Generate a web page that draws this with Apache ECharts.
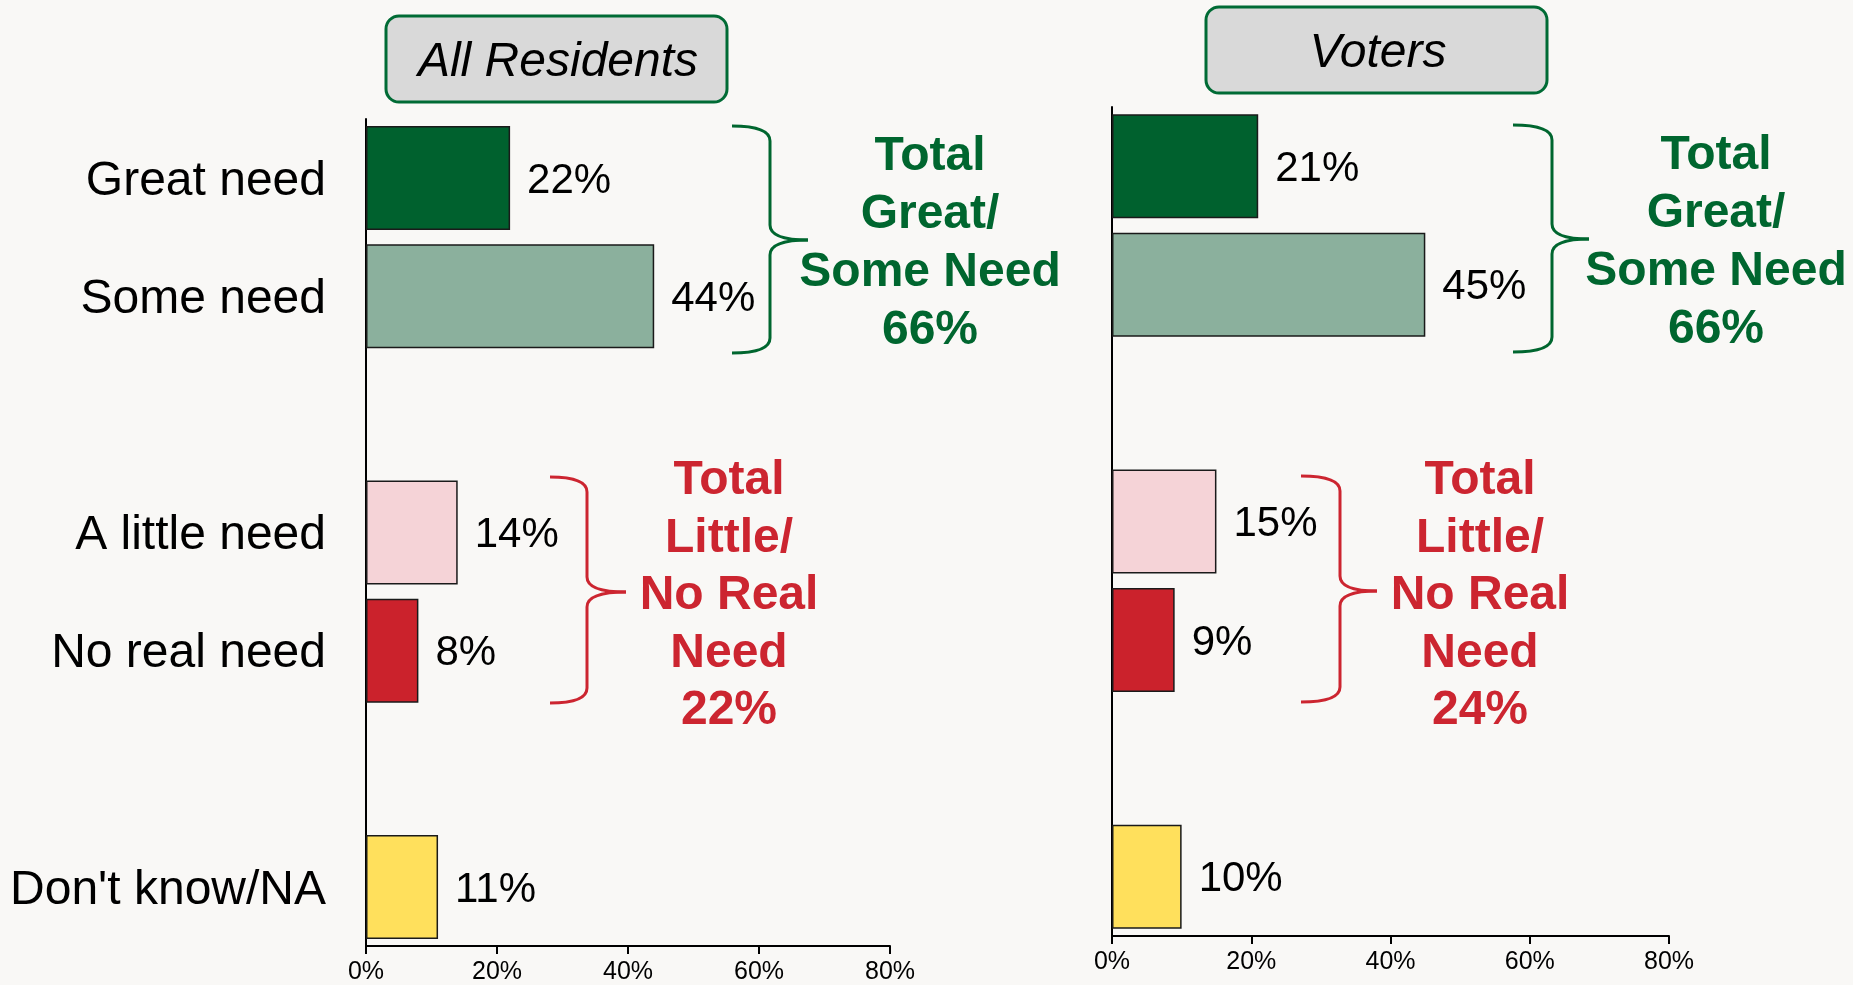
<!DOCTYPE html>
<html>
<head>
<meta charset="utf-8">
<title>Need - All Residents vs Voters</title>
<script src="https://cdn.jsdelivr.net/npm/echarts@6/dist/echarts.min.js"></script>
<style>
  html, body { margin: 0; padding: 0; background: #f9f8f6; }
  #main { width: 1853px; height: 985px; }
</style>
</head>
<body>
<div id="main"></div>
<script>
// data
const categories = ['Great need', 'Some need', '', 'A little need', 'No real need', ' ', "Don't know/NA"];
const residentsPct = [22, 44, null, 14, 8, null, 11];
const votersPct = [21, 45, null, 15, 9, null, 10];
const axisTicks = [0, 20, 40, 60, 80];
const panelTitles = ['All Residents', 'Voters'];
const residentsTotals = [66, 22];
const votersTotals = [66, 24];

const barColors = ['#00612e', '#8bb09d', null, '#f5d3d7', '#cb222c', null, '#ffe05c'];
const GREEN = '#00662f';
const RED = '#cc2530';
const FONT = '"Liberation Sans", Arial, sans-serif';

function barData(values) {
  return values.map((v, i) => (v == null ? null : { value: v, itemStyle: { color: barColors[i] } }));
}

// curly brace: x0 = arm end, xv = spine, xt = tip
function brace(x0, xv, xt, y0, ym, y1, color) {
  const r = 15;
  const style = { fill: 'none', stroke: color, lineWidth: 3 };
  const curve = (x1, y1_, x2, y2, cx, cy) => ({
    type: 'bezierCurve',
    shape: { x1: x1, y1: y1_, x2: x2, y2: y2, cpx1: cx, cpy1: cy },
    style: style,
  });
  const line = (x1, y1_, x2, y2) => ({
    type: 'line',
    shape: { x1: x1, y1: y1_, x2: x2, y2: y2 },
    style: style,
  });
  return {
    type: 'group',
    children: [
      curve(x0, y0, xv, y0 + r, xv, y0),
      line(xv, y0 + r, xv, ym - r),
      curve(xv, ym - r, xt, ym, xv, ym),
      curve(xt, ym, xv, ym + r, xv, ym),
      line(xv, ym + r, xv, y1 - r),
      curve(xv, y1 - r, x0, y1, xv, y1),
    ],
  };
}

function note(x, y, text, color, lh) {
  return {
    type: 'text',
    x: x,
    y: y,
    style: {
      text: text,
      fill: color,
      font: 'bold 48px ' + FONT,
      align: 'center',
      verticalAlign: 'middle',
      lineHeight: lh,
    },
  };
}

function titleBox(x, y, text) {
  return {
    type: 'group',
    children: [
      {
        type: 'rect',
        shape: { x: x, y: y, width: 341, height: 86, r: 13 },
        style: { fill: '#d9d9d9', stroke: '#006b35', lineWidth: 3 },
      },
      {
        type: 'text',
        x: x + 172,
        y: y + 47,
        style: {
          text: text,
          fill: '#000',
          font: 'italic 48px ' + FONT,
          align: 'center',
          verticalAlign: 'middle',
        },
      },
    ],
  };
}

function valueX(gridIndex) {
  return {
    type: 'value',
    gridIndex: gridIndex,
    min: axisTicks[0],
    max: axisTicks[axisTicks.length - 1],
    interval: axisTicks[1] - axisTicks[0],
    axisLine: { show: true, lineStyle: { color: '#000', width: 2 } },
    axisTick: { show: true, length: 8, lineStyle: { color: '#000', width: 2 } },
    axisLabel: { formatter: '{value}%', fontSize: 25, color: '#000', margin: 14, fontFamily: FONT },
    splitLine: { show: false },
  };
}

function catY(gridIndex, showLabels) {
  return {
    type: 'category',
    gridIndex: gridIndex,
    data: categories,
    inverse: true,
    axisLine: { show: true, lineStyle: { color: '#000', width: 2 } },
    axisTick: { show: false },
    axisLabel: {
      show: showLabels,
      interval: 0,
      margin: 40,
      formatter: v => (v.trim() ? '{c|' + v + '}' : ''),
      rich: {
        c: { fontSize: 48, color: '#000', fontFamily: FONT, padding: [7, 0, 0, 0] },
      },
    },
  };
}

function barSeries(values, index) {
  return {
    type: 'bar',
    xAxisIndex: index,
    yAxisIndex: index,
    data: barData(values),
    barWidth: 104,
    itemStyle: { borderColor: '#1a1a1a', borderWidth: 1.5 },
    label: {
      show: true,
      position: 'right',
      distance: 17,
      offset: [0, 3],
      formatter: '{c}%',
      fontSize: 42,
      color: '#000',
      fontFamily: FONT,
    },
  };
}

const chart = echarts.init(document.getElementById('main'));

const options = {
  backgroundColor: '#f9f8f6',
  animation: false,
  textStyle: { fontFamily: FONT },
  grid: [
    { left: 366, top: 119, width: 524, height: 828 },
    { left: 1112, top: 107, width: 557, height: 829 },
  ],
  xAxis: [valueX(0), valueX(1)],
  yAxis: [catY(0, true), catY(1, false)],
  series: [barSeries(residentsPct, 0), barSeries(votersPct, 1)],
  graphic: [
    titleBox(386, 16, panelTitles[0]),
    titleBox(1206, 7, panelTitles[1]),
    brace(732, 770, 808, 126, 240, 353, GREEN),
    brace(550, 587, 626, 477, 592, 703, RED),
    brace(1513, 1552, 1589, 125, 239, 352, GREEN),
    brace(1301, 1340, 1377, 476, 591, 702, RED),
    note(930, 244, 'Total\nGreat/\nSome Need\n' + residentsTotals[0] + '%', GREEN, 58),
    note(729, 596, 'Total\nLittle/\nNo Real\nNeed\n' + residentsTotals[1] + '%', RED, 57.6),
    note(1716, 243, 'Total\nGreat/\nSome Need\n' + votersTotals[0] + '%', GREEN, 58),
    note(1480, 596, 'Total\nLittle/\nNo Real\nNeed\n' + votersTotals[1] + '%', RED, 57.6),
  ],
};

chart.setOption(options);

window.addEventListener('resize', () => {
  chart.resize();
});
</script>
</body>
</html>
